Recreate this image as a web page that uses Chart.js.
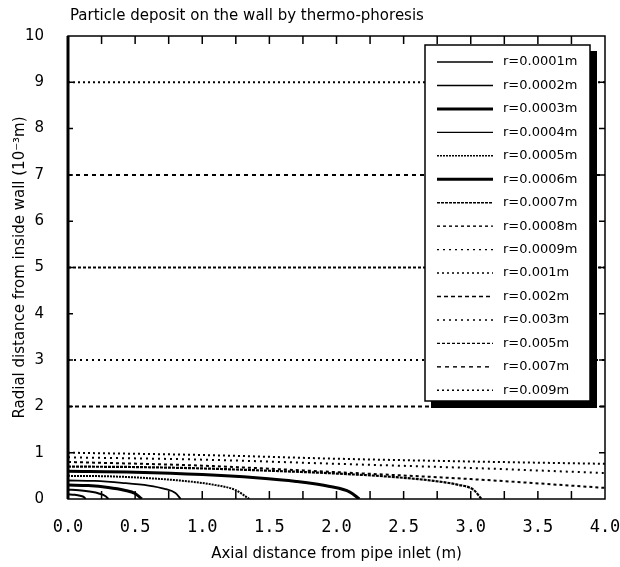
<!DOCTYPE html>
<html>
<head>
<meta charset="utf-8">
<script src="https://cdn.jsdelivr.net/npm/chart.js@4/dist/chart.umd.min.js"></script>
<style>
  html, body { margin: 0; padding: 0; background: #fff; }
  canvas { display: block; }
</style>
</head>
<body>
<canvas id="depositChart" width="620" height="567"></canvas>
<script>
// radii shown in the legend
const radiusLabels = [
  'r=0.0001m', 'r=0.0002m', 'r=0.0003m', 'r=0.0004m', 'r=0.0005m',
  'r=0.0006m', 'r=0.0007m', 'r=0.0008m', 'r=0.0009m', 'r=0.001m',
  'r=0.002m', 'r=0.003m', 'r=0.005m', 'r=0.007m', 'r=0.009m'
];

// deposit curves, x = axial distance (m), y = radial distance (1e-3 m)
const r1x = [0, 0.05, 0.09, 0.12, 0.13];
const r1y = [0.10, 0.09, 0.07, 0.04, 0];
const r2x = [0, 0.08, 0.16, 0.23, 0.28, 0.30];
const r2y = [0.20, 0.19, 0.16, 0.12, 0.06, 0];
const r3x = [0, 0.15, 0.30, 0.42, 0.50, 0.55];
const r3y = [0.30, 0.29, 0.25, 0.19, 0.12, 0];
const r4x = [0, 0.2, 0.4, 0.6, 0.72, 0.80, 0.84];
const r4y = [0.40, 0.39, 0.35, 0.29, 0.22, 0.13, 0];
const r5x = [0, 0.3, 0.6, 0.9, 1.1, 1.25, 1.35];
const r5y = [0.50, 0.49, 0.45, 0.38, 0.30, 0.19, 0];
const r6x = [0, 0.5, 1.0, 1.4, 1.7, 1.95, 2.1, 2.17];
const r6y = [0.60, 0.58, 0.53, 0.46, 0.38, 0.27, 0.15, 0];
const r7x = [0, 0.5, 1.0, 1.5, 2.0, 2.4, 2.7, 2.9, 3.02, 3.08];
const r7y = [0.70, 0.69, 0.66, 0.61, 0.55, 0.48, 0.40, 0.31, 0.20, 0];
const r8x = [0, 1, 2, 3, 4];
const r8y = [0.80, 0.72, 0.58, 0.43, 0.24];
const r9x = [0, 1, 2, 3, 4];
const r9y = [0.90, 0.85, 0.76, 0.67, 0.56];
const r10x = [0, 1, 2, 3, 4];
const r10y = [1.00, 0.95, 0.87, 0.81, 0.76];
const flatX = [0, 4];
const r11y = [2, 2];
const r12y = [3, 3];
const r13y = [5, 5];
const r14y = [7, 7];
const r15y = [9, 9];

const curveX = [r1x, r2x, r3x, r4x, r5x, r6x, r7x, r8x, r9x, r10x, flatX, flatX, flatX, flatX, flatX];
const curveY = [r1y, r2y, r3y, r4y, r5y, r6y, r7y, r8y, r9y, r10y, r11y, r12y, r13y, r14y, r15y];

// line look per radius
const lineWidths = [2, 2, 3, 1.8, 2, 3, 2.2, 2, 2, 2, 2, 2, 2, 2, 2];
const lineDashes = [[], [], [], [], [2, 1], [], [3, 1], [3, 3], [2, 4], [2, 3], [4, 3], [2, 4], [3, 2], [4, 4], [2, 3]];

const datasets = radiusLabels.map((label, i) => ({
  label,
  data: curveX[i].map((x, j) => ({ x, y: curveY[i][j] })),
  showLine: true,
  borderColor: '#000',
  borderWidth: lineWidths[i],
  borderDash: lineDashes[i],
  pointRadius: 0,
  fill: false,
  cubicInterpolationMode: 'monotone'
}));

const framePlugin = {
  id: 'frame',
  afterDatasetsDraw(chart) {
    const { ctx, chartArea: a, scales } = chart;
    ctx.save();
    ctx.setLineDash([]);
    ctx.strokeStyle = '#000';
    ctx.lineWidth = 1.5;
    ctx.strokeRect(a.left, a.top, a.right - a.left, a.bottom - a.top);
    ctx.lineWidth = 3;
    ctx.beginPath();
    ctx.moveTo(a.left, a.top);
    ctx.lineTo(a.left, a.bottom);
    ctx.stroke();
    ctx.lineWidth = 1.5;
    ctx.beginPath();
    for (let v = 0.25; v < 4; v += 0.25) {
      const px = scales.x.getPixelForValue(v);
      ctx.moveTo(px, a.top); ctx.lineTo(px, a.top + 8);
      ctx.moveTo(px, a.bottom); ctx.lineTo(px, a.bottom - 8);
    }
    for (let v = 1; v < 10; v++) {
      const py = scales.y.getPixelForValue(v);
      ctx.moveTo(a.right, py); ctx.lineTo(a.right - 6, py);
      ctx.moveTo(a.left, py); ctx.lineTo(a.left + 5, py);
    }
    ctx.stroke();
    ctx.restore();
  },
  afterDraw(chart) {
    const ctx = chart.ctx;
    ctx.save();
    // title
    ctx.fillStyle = '#000';
    ctx.font = '15px "DejaVu Sans"';
    ctx.textAlign = 'left';
    ctx.textBaseline = 'middle';
    ctx.fillText('Particle deposit on the wall by thermo-phoresis', 70, 16);

    // legend box with shadow
    const x0 = 425, y0 = 45, x1 = 590, y1 = 401;
    ctx.fillStyle = '#000';
    ctx.fillRect(x1, y0 + 6, 7, y1 - y0 + 1);
    ctx.fillRect(x0 + 6, y1, x1 - x0 + 1, 7);
    ctx.fillStyle = '#fff';
    ctx.fillRect(x0, y0, x1 - x0, y1 - y0);
    ctx.strokeStyle = '#000';
    ctx.lineWidth = 1.5;
    ctx.setLineDash([]);
    ctx.strokeRect(x0, y0, x1 - x0, y1 - y0);

    ctx.font = '13px "DejaVu Sans"';
    chart.data.datasets.forEach((ds, i) => {
      const y = 62 + i * 23.45;
      ctx.strokeStyle = ds.borderColor;
      ctx.lineWidth = Math.min(ds.borderWidth, 3) * (i === 2 || i === 5 ? 1 : 0.7);
      ctx.setLineDash(ds.borderDash);
      ctx.beginPath();
      ctx.moveTo(437, y);
      ctx.lineTo(493, y);
      ctx.stroke();
      ctx.fillStyle = '#000';
      ctx.fillText(ds.label, 503, y);
    });
    ctx.restore();
  }
};

new Chart(document.getElementById('depositChart'), {
  type: 'scatter',
  data: { datasets },
  options: {
    responsive: false,
    animation: false,
    layout: { padding: { top: 36, right: 15, left: 7, bottom: 0 } },
    plugins: {
      legend: { display: false },
      tooltip: { enabled: false }
    },
    scales: {
      x: {
        type: 'linear',
        min: 0,
        max: 4,
        afterFit: (scale) => {
          scale.height = 68;
          scale.paddingRight = 0;
        },
        grid: { display: false },
        border: { display: false },
        ticks: {
          stepSize: 0.5,
          color: '#000',
          padding: 10,
          maxRotation: 0,
          font: { family: '"DejaVu Sans Mono"', size: 17 },
          callback: (v) => v.toFixed(1)
        },
        title: {
          display: true,
          text: 'Axial distance from pipe inlet (m)',
          color: '#000',
          font: { family: '"DejaVu Sans"', size: 15 },
          padding: { top: 7 }
        }
      },
      y: {
        min: 0,
        max: 10,
        afterFit: (scale) => { scale.width = 61; },
        grid: { display: false },
        border: { display: false },
        ticks: {
          stepSize: 1,
          color: '#000',
          padding: 16,
          font: { family: '"DejaVu Sans"', size: 15 }
        },
        title: {
          display: true,
          text: 'Radial distance from inside wall (10⁻³m)',
          color: '#000',
          font: { family: '"DejaVu Sans"', size: 15 },
          padding: { bottom: 4 }
        }
      }
    }
  },
  plugins: [framePlugin]
});
</script>
</body>
</html>
